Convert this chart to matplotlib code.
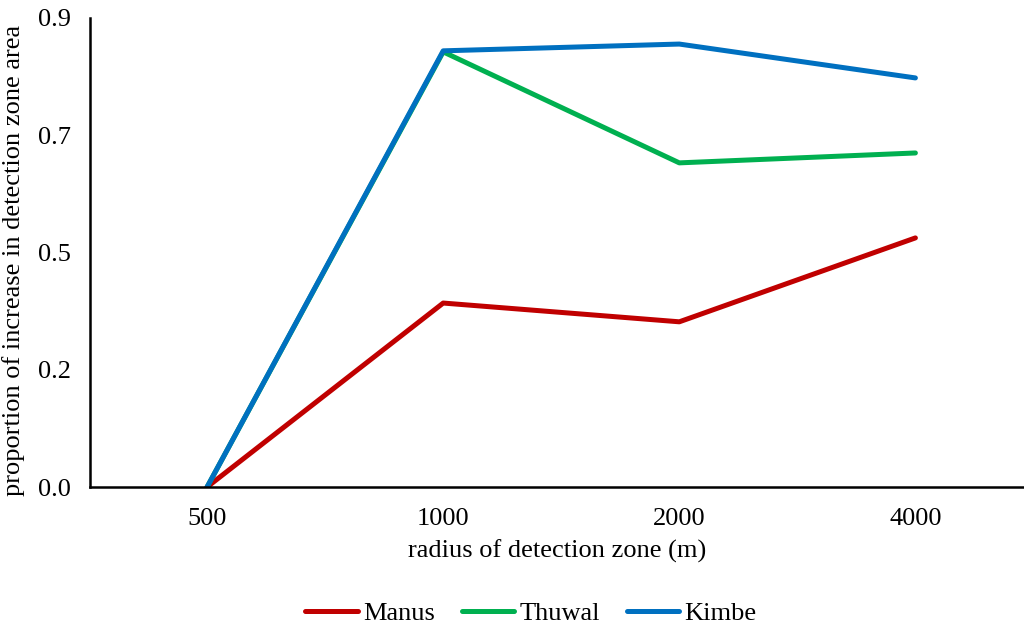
import matplotlib.pyplot as plt
from matplotlib.ticker import FormatStrFormatter

plt.rcParams["font.family"] = ["Liberation Serif", "DejaVu Serif"]

radius = ["500", "1000", "2000", "4000"]
manus = [0.0, 0.353, 0.317, 0.478]
thuwal = [0.0, 0.835, 0.622, 0.641]
kimbe = [0.0, 0.837, 0.850, 0.785]
y_ticks = [0.0, 0.225, 0.45, 0.675, 0.9]

fig = plt.figure(figsize=(10.24, 6.26), dpi=100)
ax = fig.add_axes([90 / 1024, 1 - 487 / 626, (1024 - 90) / 1024, (487 - 18) / 626])

x = range(len(radius))
ax.plot(x, manus, color="#C00000", lw=3.6, label="Manus", solid_capstyle="round")
ax.plot(x, thuwal, color="#00B050", lw=3.6, label="Thuwal", solid_capstyle="round")
ax.plot(x, kimbe, color="#0070C0", lw=3.6, label="Kimbe", solid_capstyle="round")

ax.set_xlim(-0.496, 3.46)
ax.set_ylim(0, 0.9)
ax.set_xticks(list(x))
ax.set_xticklabels(radius)
ax.set_yticks(y_ticks)
ax.yaxis.set_major_formatter(FormatStrFormatter("%.1f"))
ax.tick_params(length=0, labelsize=19, pad=15)
ax.tick_params(axis="y", pad=14)

for side in ["top", "right"]:
    ax.spines[side].set_visible(False)
for side in ["left", "bottom"]:
    ax.spines[side].set_linewidth(1.8)

ax.set_xlabel("radius of detection zone (m)", fontsize=19, labelpad=7)
ax.set_ylabel("proportion of increase in detection zone area", fontsize=19, labelpad=9)
ax.yaxis.label.set_y(0.484)

fig.legend(loc="center", bbox_to_anchor=(531 / 1024, 1 - 613 / 626), ncol=3, frameon=False,
           fontsize=19, handlelength=2.0, handletextpad=0.2, columnspacing=1.0)

fig.savefig("out.png", dpi=100)
